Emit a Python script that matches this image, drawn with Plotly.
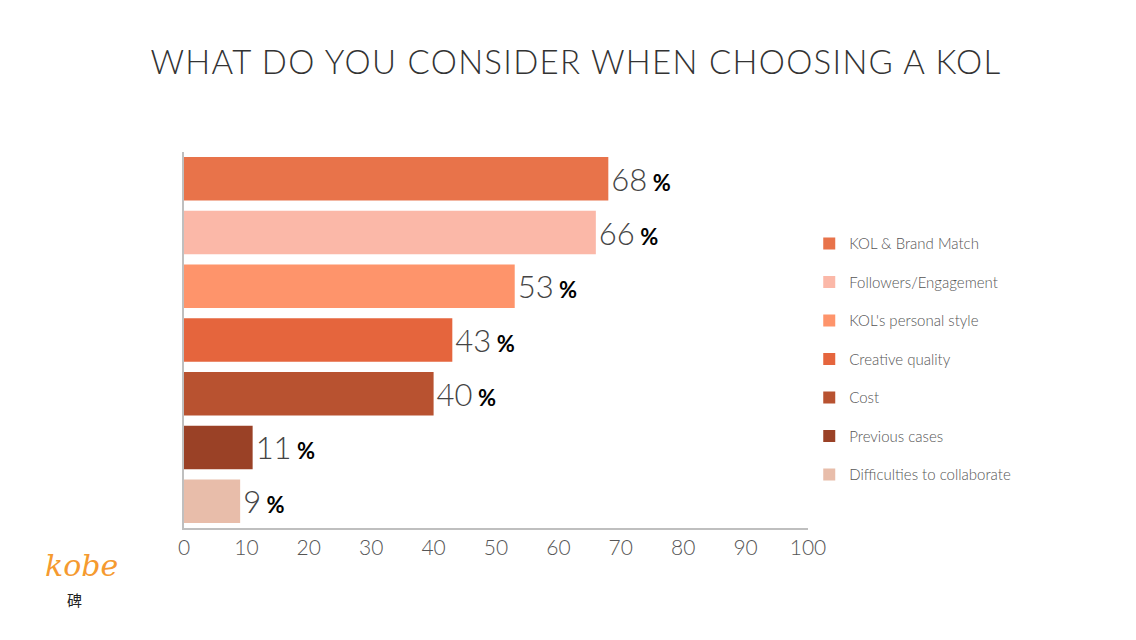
import plotly.graph_objects as go

categories = ['KOL & Brand Match', 'Followers/Engagement', "KOL's personal style",
              'Creative quality', 'Cost', 'Previous cases', 'Difficulties to collaborate']
values = [68, 66, 53, 43, 40, 11, 9]
colors = ['#E8734A', '#FBB8A8', '#FE946B', '#E5653D', '#B85230', '#9A4126', '#E8BDAA']
x_ticks = [0, 10, 20, 30, 40, 50, 60, 70, 80, 90, 100]

thin = 'Lato'

fig = go.Figure()
for cat, val, col in zip(categories, values, colors):
    fig.add_trace(go.Bar(
        x=[val],
        y=[cat],
        orientation='h',
        name=cat,
        legendgroup=cat,
        marker=dict(color=col, line=dict(width=0)),
        text=[f'{val}<span style="font-family:Lato;font-weight:bold;font-size:22px;fill:#000"> %</span>'],
        textposition='outside',
        textfont=dict(family=thin, size=31, color='#444', weight=300),
        cliponaxis=False,
        hovertemplate='%{y}: %{x}%<extra></extra>'
    ))

fig.update_layout(
    barmode='relative',
    bargap=0.19,
    width=1136,
    height=640,
    paper_bgcolor='white',
    plot_bgcolor='white',
    margin=dict(l=176, r=336, t=144, b=120),
    title=dict(
        text='<span style="letter-spacing:1.3px">WHAT DO YOU CONSIDER WHEN CHOOSING A KOL</span>',
        x=0.5,
        xanchor='center',
        y=0.915,
        yanchor='middle',
        font=dict(family=thin, size=33, color='#333', weight=300)
    ),
    xaxis=dict(
        range=[0, 100],
        tickvals=x_ticks,
        showgrid=False,
        zeroline=False,
        showline=True,
        linecolor='#BFBFBF',
        linewidth=1.5,
        ticks='',
        tickfont=dict(family=thin, size=21, color='#555', weight=300),
        fixedrange=True
    ),
    yaxis=dict(
        categoryorder='array',
        categoryarray=categories,
        autorange='reversed',
        showticklabels=False,
        showgrid=False,
        zeroline=False,
        showline=True,
        linecolor='#BFBFBF',
        linewidth=1.5,
        ticks='',
        fixedrange=True
    ),
    legend=dict(
        x=1.002,
        y=0.8,
        xanchor='left',
        yanchor='top',
        traceorder='grouped',
        tracegroupgap=16,
        font=dict(family=thin, size=15, color='#555', weight=300),
        itemwidth=30
    ),
    showlegend=True
)

# logo
fig.add_annotation(
    x=-0.165, y=-0.1, xref='paper', yref='paper',
    xanchor='center', yanchor='middle',
    text='<i>kobe</i>', showarrow=False,
    font=dict(family='DejaVu Serif', size=30, color='#F59A2F')
)
fig.add_annotation(
    x=-0.175, y=-0.19, xref='paper', yref='paper',
    xanchor='center', yanchor='middle',
    text='碑', showarrow=False,
    font=dict(family='Noto Sans CJK TC', size=15, color='#222')
)

fig.write_html('out.html')
